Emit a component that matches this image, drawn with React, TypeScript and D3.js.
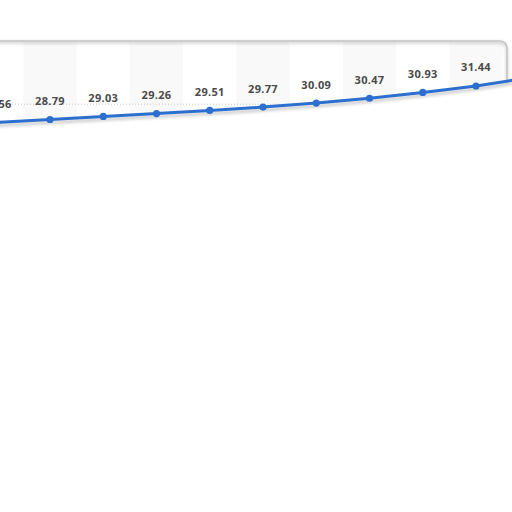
import React from "react";
import * as d3 from "d3";

const indices = [0, 1, 2, 3, 4, 5, 6, 7, 8, 9, 10];
const values = [28.56, 28.79, 29.03, 29.26, 29.51, 29.77, 30.09, 30.47, 30.93, 31.44, 32.1];
const labels = ["28.56", "28.79", "29.03", "29.26", "29.51", "29.77", "30.09", "30.47", "30.93", "31.44", ""];
const gridValues = [30];

export default function App() {
  const W = 512;
  const H = 512;
  const x = d3.scaleLinear().domain([1, 9]).range([50, 476]);
  const y = d3.scaleLinear().domain([28, 32]).range([129.5, 78.9]);
  const step = x(1) - x(0);

  const pts: [number, number][] = indices.map((i) => [x(i), y(values[i])]);
  const lineGen = d3.line<[number, number]>().x((d) => d[0]).y((d) => d[1]);
  const linePath = lineGen(pts) || "";

  const topY = 41;
  const rightX = 507;
  const r = 8;
  const yAtRight = y(values[9]) + ((rightX - x(9)) / step) * (y(values[10]) - y(values[9]));
  const revLine = pts.slice().reverse().filter((p) => p[0] < rightX);
  const clipD =
    `M${x(0) - 10},${topY} L${rightX - r},${topY} Q${rightX},${topY} ${rightX},${topY + r} L${rightX},${yAtRight} ` +
    revLine.map((p) => `L${p[0]},${p[1]}`).join(" ") +
    ` L${x(0) - 10},${pts[0][1]} Z`;
  const frameD = `M${x(0) - 10},${topY} L${rightX - r},${topY} Q${rightX},${topY} ${rightX},${topY + r} L${rightX},${yAtRight}`;

  return (
    <svg
      width={W}
      height={H}
      style={{ position: "absolute", left: 0, top: 0, background: "#fff" }}
    >
      <defs>
        <clipPath id="panel">
          <path d={clipD} />
        </clipPath>
        <filter id="blur" x="-10%" y="-50%" width="120%" height="200%">
          <feGaussianBlur stdDeviation="1.5" />
        </filter>
      </defs>
      <g clipPath="url(#panel)">
        <rect x={-20} y={topY} width={W + 40} height={120} fill="#ffffff" />
        {indices
          .filter((i) => i % 2 === 1)
          .map((i) => (
            <rect
              key={i}
              x={x(i) - step / 2}
              y={topY}
              width={step}
              height={120}
              fill="#f9f9f9"
            />
          ))}
        {gridValues.map((g) => (
          <line
            key={g}
            x1={0}
            x2={W}
            y1={y(g)}
            y2={y(g)}
            stroke="#c8c8c8"
            strokeWidth={1}
            strokeDasharray="1,2"
          />
        ))}
      </g>
      <path d={frameD} fill="none" stroke="#bdbdbd" strokeWidth={3} opacity={0.6} filter="url(#blur)" transform="translate(0,1.5)" />
      <path d={frameD} fill="none" stroke="#c4c4c4" strokeWidth={1.5} />
      <path
        d={linePath}
        fill="none"
        stroke="#999"
        strokeWidth={3}
        opacity={0.5}
        filter="url(#blur)"
        transform="translate(0,3)"
      />
      <path d={linePath} fill="none" stroke="#2c6fcf" strokeWidth={3} strokeLinejoin="round" />
      {pts.map((p, i) => (
        <circle key={i} cx={p[0]} cy={p[1]} r={3.6} fill="#2c6fcf" />
      ))}
      {pts
        .map((p, i) => ({ p, t: labels[i], i }))
        .filter((d) => d.t !== "")
        .map(({ p, t, i }) => (
          <text
            key={"t" + i}
            x={p[0]}
            y={p[1] - 14.5}
            textAnchor="middle"
            fontFamily="'Open Sans', sans-serif"
            fontWeight="bold"
            fontSize={11}
            letterSpacing={0.3}
            fill="#4a4a4a"
          >
            {t}
          </text>
        ))}
    </svg>
  );
}
